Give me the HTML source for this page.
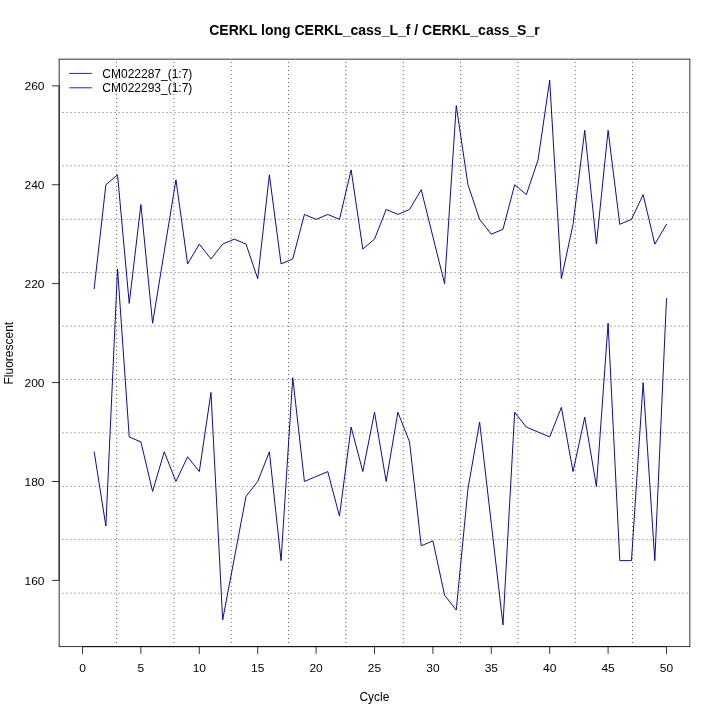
<!DOCTYPE html>
<html><head><meta charset="utf-8"><title>CERKL plot</title>
<style>
html,body{margin:0;padding:0;background:#fff;}
svg{display:block;}
text{font-family:'Liberation Sans',sans-serif;font-size:12px;fill:#000;}
</style></head>
<body>
<div style="will-change:transform;width:720px;height:720px"><svg width="720" height="720" viewBox="0 0 720 720">
<rect width="720" height="720" fill="#fff"/>
<g transform="translate(0.1,0.1)">
<line x1="116.40" y1="61.9" x2="116.40" y2="646.9" stroke="#2c2c2c" stroke-opacity="0.750" stroke-width="1" stroke-dasharray="1 3" shape-rendering="crispEdges"/>
<line x1="173.40" y1="61.9" x2="173.40" y2="646.9" stroke="#2c2c2c" stroke-opacity="0.509" stroke-width="1" stroke-dasharray="1 3" shape-rendering="crispEdges"/>
<line x1="174.40" y1="61.9" x2="174.40" y2="646.9" stroke="#2c2c2c" stroke-opacity="0.241" stroke-width="1" stroke-dasharray="1 3" shape-rendering="crispEdges"/>
<line x1="230.40" y1="61.9" x2="230.40" y2="646.9" stroke="#2c2c2c" stroke-opacity="0.170" stroke-width="1" stroke-dasharray="1 3" shape-rendering="crispEdges"/>
<line x1="231.40" y1="61.9" x2="231.40" y2="646.9" stroke="#2c2c2c" stroke-opacity="0.580" stroke-width="1" stroke-dasharray="1 3" shape-rendering="crispEdges"/>
<line x1="288.40" y1="61.9" x2="288.40" y2="646.9" stroke="#2c2c2c" stroke-opacity="0.750" stroke-width="1" stroke-dasharray="1 3" shape-rendering="crispEdges"/>
<line x1="345.40" y1="61.9" x2="345.40" y2="646.9" stroke="#2c2c2c" stroke-opacity="0.494" stroke-width="1" stroke-dasharray="1 3" shape-rendering="crispEdges"/>
<line x1="346.40" y1="61.9" x2="346.40" y2="646.9" stroke="#2c2c2c" stroke-opacity="0.256" stroke-width="1" stroke-dasharray="1 3" shape-rendering="crispEdges"/>
<line x1="402.40" y1="61.9" x2="402.40" y2="646.9" stroke="#2c2c2c" stroke-opacity="0.156" stroke-width="1" stroke-dasharray="1 3" shape-rendering="crispEdges"/>
<line x1="403.40" y1="61.9" x2="403.40" y2="646.9" stroke="#2c2c2c" stroke-opacity="0.594" stroke-width="1" stroke-dasharray="1 3" shape-rendering="crispEdges"/>
<line x1="460.40" y1="61.9" x2="460.40" y2="646.9" stroke="#2c2c2c" stroke-opacity="0.750" stroke-width="1" stroke-dasharray="1 3" shape-rendering="crispEdges"/>
<line x1="517.40" y1="61.9" x2="517.40" y2="646.9" stroke="#2c2c2c" stroke-opacity="0.480" stroke-width="1" stroke-dasharray="1 3" shape-rendering="crispEdges"/>
<line x1="518.40" y1="61.9" x2="518.40" y2="646.9" stroke="#2c2c2c" stroke-opacity="0.270" stroke-width="1" stroke-dasharray="1 3" shape-rendering="crispEdges"/>
<line x1="574.40" y1="61.9" x2="574.40" y2="646.9" stroke="#2c2c2c" stroke-opacity="0.141" stroke-width="1" stroke-dasharray="1 3" shape-rendering="crispEdges"/>
<line x1="575.40" y1="61.9" x2="575.40" y2="646.9" stroke="#2c2c2c" stroke-opacity="0.609" stroke-width="1" stroke-dasharray="1 3" shape-rendering="crispEdges"/>
<line x1="632.40" y1="61.9" x2="632.40" y2="646.9" stroke="#2c2c2c" stroke-opacity="0.750" stroke-width="1" stroke-dasharray="1 3" shape-rendering="crispEdges"/>
<line x1="61.9" y1="112.40" x2="689.9" y2="112.40" stroke="#2c2c2c" stroke-opacity="0.375" stroke-width="1" stroke-dasharray="2 2" shape-rendering="crispEdges"/>
<line x1="61.9" y1="165.40" x2="689.9" y2="165.40" stroke="#2c2c2c" stroke-opacity="0.257" stroke-width="1" stroke-dasharray="2 2" shape-rendering="crispEdges"/>
<line x1="61.9" y1="166.40" x2="689.9" y2="166.40" stroke="#2c2c2c" stroke-opacity="0.118" stroke-width="1" stroke-dasharray="2 2" shape-rendering="crispEdges"/>
<line x1="61.9" y1="218.40" x2="689.9" y2="218.40" stroke="#2c2c2c" stroke-opacity="0.051" stroke-width="1" stroke-dasharray="2 2" shape-rendering="crispEdges"/>
<line x1="61.9" y1="219.40" x2="689.9" y2="219.40" stroke="#2c2c2c" stroke-opacity="0.324" stroke-width="1" stroke-dasharray="2 2" shape-rendering="crispEdges"/>
<line x1="61.9" y1="272.40" x2="689.9" y2="272.40" stroke="#2c2c2c" stroke-opacity="0.346" stroke-width="1" stroke-dasharray="2 2" shape-rendering="crispEdges"/>
<line x1="61.9" y1="273.40" x2="689.9" y2="273.40" stroke="#2c2c2c" stroke-opacity="0.029" stroke-width="1" stroke-dasharray="2 2" shape-rendering="crispEdges"/>
<line x1="61.9" y1="325.40" x2="689.9" y2="325.40" stroke="#2c2c2c" stroke-opacity="0.140" stroke-width="1" stroke-dasharray="2 2" shape-rendering="crispEdges"/>
<line x1="61.9" y1="326.40" x2="689.9" y2="326.40" stroke="#2c2c2c" stroke-opacity="0.235" stroke-width="1" stroke-dasharray="2 2" shape-rendering="crispEdges"/>
<line x1="61.9" y1="379.40" x2="689.9" y2="379.40" stroke="#2c2c2c" stroke-opacity="0.375" stroke-width="1" stroke-dasharray="2 2" shape-rendering="crispEdges"/>
<line x1="61.9" y1="432.40" x2="689.9" y2="432.40" stroke="#2c2c2c" stroke-opacity="0.229" stroke-width="1" stroke-dasharray="2 2" shape-rendering="crispEdges"/>
<line x1="61.9" y1="433.40" x2="689.9" y2="433.40" stroke="#2c2c2c" stroke-opacity="0.146" stroke-width="1" stroke-dasharray="2 2" shape-rendering="crispEdges"/>
<line x1="61.9" y1="485.40" x2="689.9" y2="485.40" stroke="#2c2c2c" stroke-opacity="0.024" stroke-width="1" stroke-dasharray="2 2" shape-rendering="crispEdges"/>
<line x1="61.9" y1="486.40" x2="689.9" y2="486.40" stroke="#2c2c2c" stroke-opacity="0.351" stroke-width="1" stroke-dasharray="2 2" shape-rendering="crispEdges"/>
<line x1="61.9" y1="539.40" x2="689.9" y2="539.40" stroke="#2c2c2c" stroke-opacity="0.318" stroke-width="1" stroke-dasharray="2 2" shape-rendering="crispEdges"/>
<line x1="61.9" y1="540.40" x2="689.9" y2="540.40" stroke="#2c2c2c" stroke-opacity="0.057" stroke-width="1" stroke-dasharray="2 2" shape-rendering="crispEdges"/>
<line x1="61.9" y1="592.40" x2="689.9" y2="592.40" stroke="#2c2c2c" stroke-opacity="0.113" stroke-width="1" stroke-dasharray="2 2" shape-rendering="crispEdges"/>
<line x1="61.9" y1="593.40" x2="689.9" y2="593.40" stroke="#2c2c2c" stroke-opacity="0.262" stroke-width="1" stroke-dasharray="2 2" shape-rendering="crispEdges"/>
<polyline points="94.08,288.51 105.76,184.65 117.44,174.76 129.12,303.35 140.80,204.44 152.48,323.13 164.16,251.42 175.84,179.71 187.52,263.78 199.20,244.00 210.88,258.84 222.56,244.00 234.24,239.05 245.92,244.00 257.60,278.62 269.28,174.76 280.96,263.78 292.64,258.84 304.32,214.33 316.00,219.27 327.68,214.33 339.36,219.27 351.04,169.82 362.72,248.95 374.40,239.05 386.08,209.38 397.76,214.33 409.44,209.38 421.12,189.60 432.80,236.58 444.48,283.56 456.16,105.53 467.84,184.65 479.52,219.27 491.20,234.11 502.88,229.16 514.56,184.65 526.24,194.55 537.92,159.93 549.60,80.11 561.28,278.62 572.96,224.22 584.64,130.25 596.32,244.00 608.00,130.25 619.68,224.22 631.36,219.27 643.04,194.55 654.72,244.00 666.40,224.22" fill="none" stroke="#00008B" stroke-width="0.95" stroke-linejoin="round" stroke-linecap="round"/>
<polyline points="94.08,451.71 105.76,525.89 117.44,268.73 129.12,436.87 140.80,441.82 152.48,491.27 164.16,451.71 175.84,481.38 187.52,456.65 199.20,471.49 210.88,392.36 222.56,619.85 234.24,558.04 245.92,496.22 257.60,481.38 269.28,451.71 280.96,560.51 292.64,377.53 304.32,481.38 316.00,476.44 327.68,471.49 339.36,516.00 351.04,426.98 362.72,471.49 374.40,412.15 386.08,481.38 397.76,412.15 409.44,441.82 421.12,545.67 432.80,540.73 444.48,595.13 456.16,609.96 467.84,488.80 479.52,422.04 491.20,523.42 502.88,624.80 514.56,412.15 526.24,426.98 537.92,431.93 549.60,436.87 561.28,407.20 572.96,471.49 584.64,417.09 596.32,486.33 608.00,323.13 619.68,560.51 631.36,560.51 643.04,382.47 654.72,560.51 666.40,298.40" fill="none" stroke="#00008B" stroke-width="0.95" stroke-linejoin="round" stroke-linecap="round"/>
<rect x="59.04" y="59.04" width="630.72" height="587.52" fill="none" stroke="#000" stroke-width="0.8"/>
<line x1="82.40" y1="646.56" x2="666.40" y2="646.56" stroke="#000" stroke-width="0.8"/>
<line x1="82.40" y1="646.56" x2="82.40" y2="653.76" stroke="#000" stroke-width="0.8"/>
<text transform="translate(82.40,671.9) scale(1,0.9)" text-anchor="middle">0</text>
<line x1="140.80" y1="646.56" x2="140.80" y2="653.76" stroke="#000" stroke-width="0.8"/>
<text transform="translate(140.80,671.9) scale(1,0.9)" text-anchor="middle">5</text>
<line x1="199.20" y1="646.56" x2="199.20" y2="653.76" stroke="#000" stroke-width="0.8"/>
<text transform="translate(199.20,671.9) scale(1,0.9)" text-anchor="middle">10</text>
<line x1="257.60" y1="646.56" x2="257.60" y2="653.76" stroke="#000" stroke-width="0.8"/>
<text transform="translate(257.60,671.9) scale(1,0.9)" text-anchor="middle">15</text>
<line x1="316.00" y1="646.56" x2="316.00" y2="653.76" stroke="#000" stroke-width="0.8"/>
<text transform="translate(316.00,671.9) scale(1,0.9)" text-anchor="middle">20</text>
<line x1="374.40" y1="646.56" x2="374.40" y2="653.76" stroke="#000" stroke-width="0.8"/>
<text transform="translate(374.40,671.9) scale(1,0.9)" text-anchor="middle">25</text>
<line x1="432.80" y1="646.56" x2="432.80" y2="653.76" stroke="#000" stroke-width="0.8"/>
<text transform="translate(432.80,671.9) scale(1,0.9)" text-anchor="middle">30</text>
<line x1="491.20" y1="646.56" x2="491.20" y2="653.76" stroke="#000" stroke-width="0.8"/>
<text transform="translate(491.20,671.9) scale(1,0.9)" text-anchor="middle">35</text>
<line x1="549.60" y1="646.56" x2="549.60" y2="653.76" stroke="#000" stroke-width="0.8"/>
<text transform="translate(549.60,671.9) scale(1,0.9)" text-anchor="middle">40</text>
<line x1="608.00" y1="646.56" x2="608.00" y2="653.76" stroke="#000" stroke-width="0.8"/>
<text transform="translate(608.00,671.9) scale(1,0.9)" text-anchor="middle">45</text>
<line x1="666.40" y1="646.56" x2="666.40" y2="653.76" stroke="#000" stroke-width="0.8"/>
<text transform="translate(666.40,671.9) scale(1,0.9)" text-anchor="middle">50</text>
<line x1="59.04" y1="580.29" x2="59.04" y2="85.75" stroke="#000" stroke-width="0.8"/>
<line x1="51.84" y1="580.29" x2="59.04" y2="580.29" stroke="#000" stroke-width="0.8"/>
<text transform="translate(44.4,584.49) scale(1,0.9)" text-anchor="end">160</text>
<line x1="51.84" y1="481.38" x2="59.04" y2="481.38" stroke="#000" stroke-width="0.8"/>
<text transform="translate(44.4,485.58) scale(1,0.9)" text-anchor="end">180</text>
<line x1="51.84" y1="382.47" x2="59.04" y2="382.47" stroke="#000" stroke-width="0.8"/>
<text transform="translate(44.4,386.67) scale(1,0.9)" text-anchor="end">200</text>
<line x1="51.84" y1="283.56" x2="59.04" y2="283.56" stroke="#000" stroke-width="0.8"/>
<text transform="translate(44.4,287.76) scale(1,0.9)" text-anchor="end">220</text>
<line x1="51.84" y1="184.65" x2="59.04" y2="184.65" stroke="#000" stroke-width="0.8"/>
<text transform="translate(44.4,188.85) scale(1,0.9)" text-anchor="end">240</text>
<line x1="51.84" y1="85.75" x2="59.04" y2="85.75" stroke="#000" stroke-width="0.8"/>
<text transform="translate(44.4,89.95) scale(1,0.9)" text-anchor="end">260</text>
</g>
<text x="374.4" y="34.8" text-anchor="middle" style="font-weight:bold;font-size:14px">CERKL long CERKL_cass_L_f / CERKL_cass_S_r</text>
<text x="374.4" y="700.7" text-anchor="middle">Cycle</text>
<text transform="translate(13.1,353.2) rotate(-90)" x="0" y="0" text-anchor="middle">Fluorescent</text>
<line x1="69.3" y1="73.4" x2="91.9" y2="73.4" stroke="#00008B" stroke-width="0.85"/>
<text x="102.3" y="77.75">CM022287_(1:7)</text>
<line x1="69.3" y1="87.8" x2="91.9" y2="87.8" stroke="#00008B" stroke-width="0.85"/>
<text x="102.3" y="92.15">CM022293_(1:7)</text>
</svg></div>
</body></html>
